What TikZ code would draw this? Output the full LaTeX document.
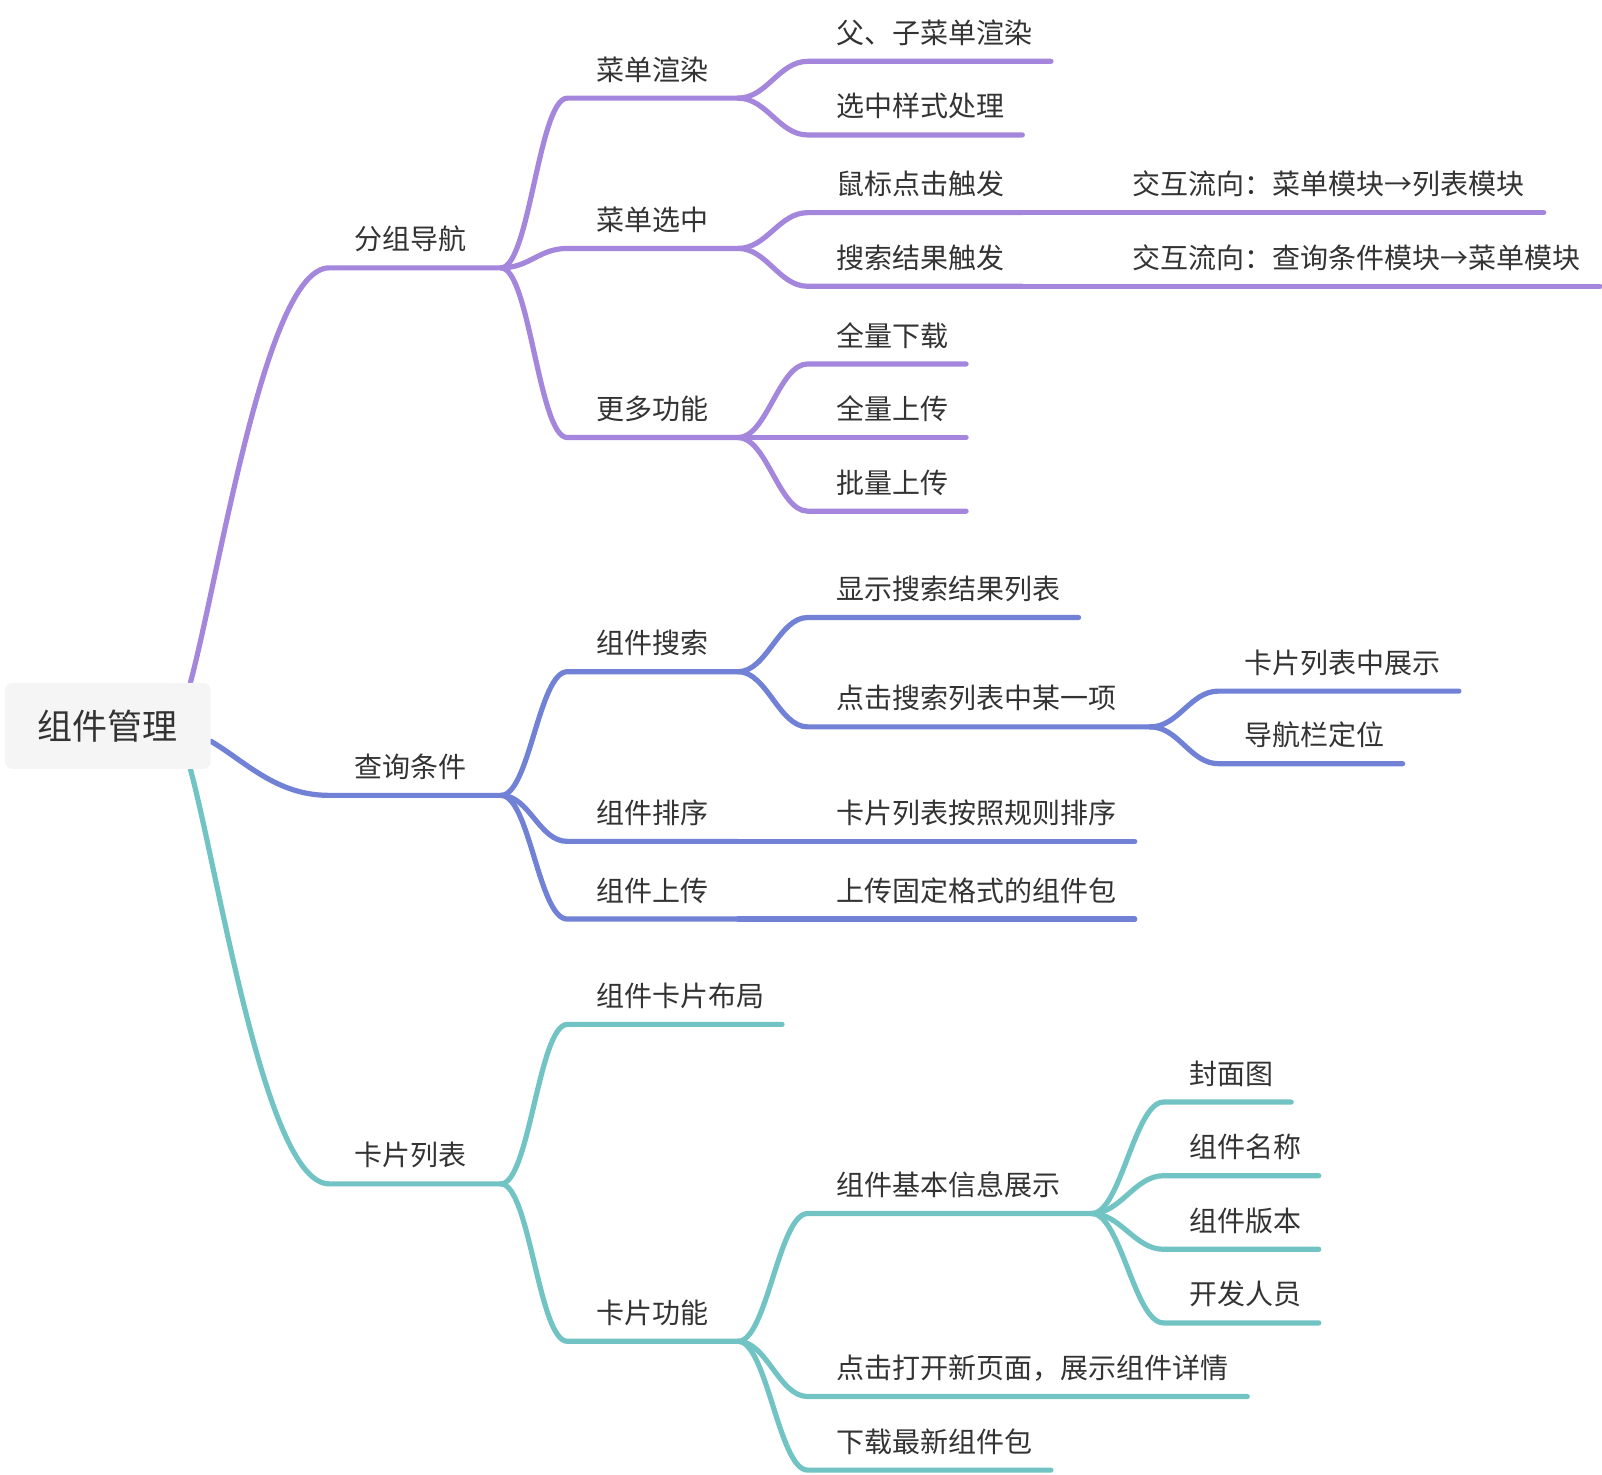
\documentclass[tikz,border=0pt]{standalone}
\usepackage{fontspec}
\setmainfont{Noto Sans CJK SC}
\usetikzlibrary{calc,backgrounds}
\definecolor{cpur}{HTML}{A487DD}
\definecolor{cblu}{HTML}{7181D6}
\definecolor{ctea}{HTML}{72C4C4}
\definecolor{txt}{HTML}{333333}
\definecolor{rootfill}{HTML}{F5F5F5}
% #1 name, #2 parent, #3 colour, #4 line start x, #5 line y, #6 line end x, #7 text x, #8 text
\newcommand\mmtopic[8]{%
  \coordinate (#1-s) at (#4,#5);
  \coordinate (#1-e) at (#6,#5);
  \node[topic] (#1) at (#7,#5-28) {#8};
  \draw[branch,#3] (#2-e) .. controls +(28,0) and +(-28,0) .. (#1-s) -- (#1-e);
}
\begin{document}
\begin{tikzpicture}[x=1.0223pt,y=-1.0223pt,
  topic/.style={anchor=west, inner sep=0pt, text=txt, font=\fontsize{28}{30}\selectfont},
  rootbox/.style={fill=rootfill, rounded corners=7pt, minimum width=205.5pt, minimum height=85.9pt,
    inner sep=0pt, text=txt, font=\fontsize{35}{38}\selectfont},
  branch/.style={line width=5.2pt, line cap=round},
]
\useasboundingbox (0,0) rectangle (1567,1442);

% root
\node[rootbox] (root) at (105.5,710) {组件管理};
\coordinate (r1) at ($(root.north east)+(-20,0)$);
\coordinate (r2) at ($(root.east)+(0,15)$);
\coordinate (r3) at ($(root.south east)+(-20,0)$);

% level 1
\coordinate (g1-s) at (322,262); \coordinate (g1-e) at (490,262);
\node[topic] (g1) at (347,234) {分组导航};
\coordinate (g2-s) at (322,778); \coordinate (g2-e) at (490,778);
\node[topic] (g2) at (347,750) {查询条件};
\coordinate (g3-s) at (322,1158); \coordinate (g3-e) at (490,1158);
\node[topic] (g3) at (347,1130) {卡片列表};
\begin{scope}[on background layer]
\draw[branch,cpur] (r1) .. controls +(29,-108) and +(-62,0) .. (g1-s) -- (g1-e);
\draw[branch,cblu] (r2) .. controls +(34,20) and +(-52,0) .. (g2-s) -- (g2-e);
\draw[branch,ctea] (r3) .. controls +(29,108) and +(-62,0) .. (g3-s) -- (g3-e);
\end{scope}

% level 2
\mmtopic{a1}{g1}{cpur}{555}{96}{722}{583}{菜单渲染}
\mmtopic{a2}{g1}{cpur}{555}{243}{722}{583}{菜单选中}
\mmtopic{a3}{g1}{cpur}{555}{428}{722}{583}{更多功能}
\mmtopic{b1}{g2}{cblu}{555}{657}{722}{583}{组件搜索}
\mmtopic{b2}{g2}{cblu}{555}{823}{722}{583}{组件排序}
\mmtopic{b3}{g2}{cblu}{555}{899}{722}{583}{组件上传}
\mmtopic{c1}{g3}{ctea}{555}{1002}{765}{583}{组件卡片布局}
\mmtopic{c2}{g3}{ctea}{555}{1312}{722}{583}{卡片功能}

% level 3
\mmtopic{a11}{a1}{cpur}{790}{60}{1028}{818}{父、子菜单渲染}
\mmtopic{a12}{a1}{cpur}{790}{132}{1000}{818}{选中样式处理}
\mmtopic{a21}{a2}{cpur}{790}{208}{1000}{818}{鼠标点击触发}
\mmtopic{a22}{a2}{cpur}{790}{280}{1000}{818}{搜索结果触发}
\mmtopic{a31}{a3}{cpur}{790}{356}{945}{818}{全量下载}
\mmtopic{a32}{a3}{cpur}{790}{428}{945}{818}{全量上传}
\mmtopic{a33}{a3}{cpur}{790}{500}{945}{818}{批量上传}
\mmtopic{b11}{b1}{cblu}{790}{604}{1055}{818}{显示搜索结果列表}
\mmtopic{b12}{b1}{cblu}{790}{711}{1125}{818}{点击搜索列表中某一项}
\mmtopic{b21}{b2}{cblu}{790}{823}{1110}{818}{卡片列表按照规则排序}
\mmtopic{b31}{b3}{cblu}{790}{899}{1110}{818}{上传固定格式的组件包}
\mmtopic{c21}{c2}{ctea}{790}{1187}{1068}{818}{组件基本信息展示}
\mmtopic{c22}{c2}{ctea}{790}{1366}{1220}{818}{点击打开新页面，展示组件详情}
\mmtopic{c23}{c2}{ctea}{790}{1438}{1028}{818}{下载最新组件包}

% level 4
\mmtopic{a211}{a21}{cpur}{1080}{208}{1510}{1108}{交互流向：菜单模块→列表模块}
\mmtopic{a221}{a22}{cpur}{1080}{280}{1565}{1108}{交互流向：查询条件模块→菜单模块}
\mmtopic{b121}{b12}{cblu}{1192}{676}{1427}{1217}{卡片列表中展示}
\mmtopic{b122}{b12}{cblu}{1192}{747}{1372}{1217}{导航栏定位}
\mmtopic{c211}{c21}{ctea}{1138}{1078}{1263}{1163}{封面图}
\mmtopic{c212}{c21}{ctea}{1138}{1150}{1290}{1163}{组件名称}
\mmtopic{c213}{c21}{ctea}{1138}{1222}{1290}{1163}{组件版本}
\mmtopic{c214}{c21}{ctea}{1138}{1294}{1290}{1163}{开发人员}
\end{tikzpicture}
\end{document}
